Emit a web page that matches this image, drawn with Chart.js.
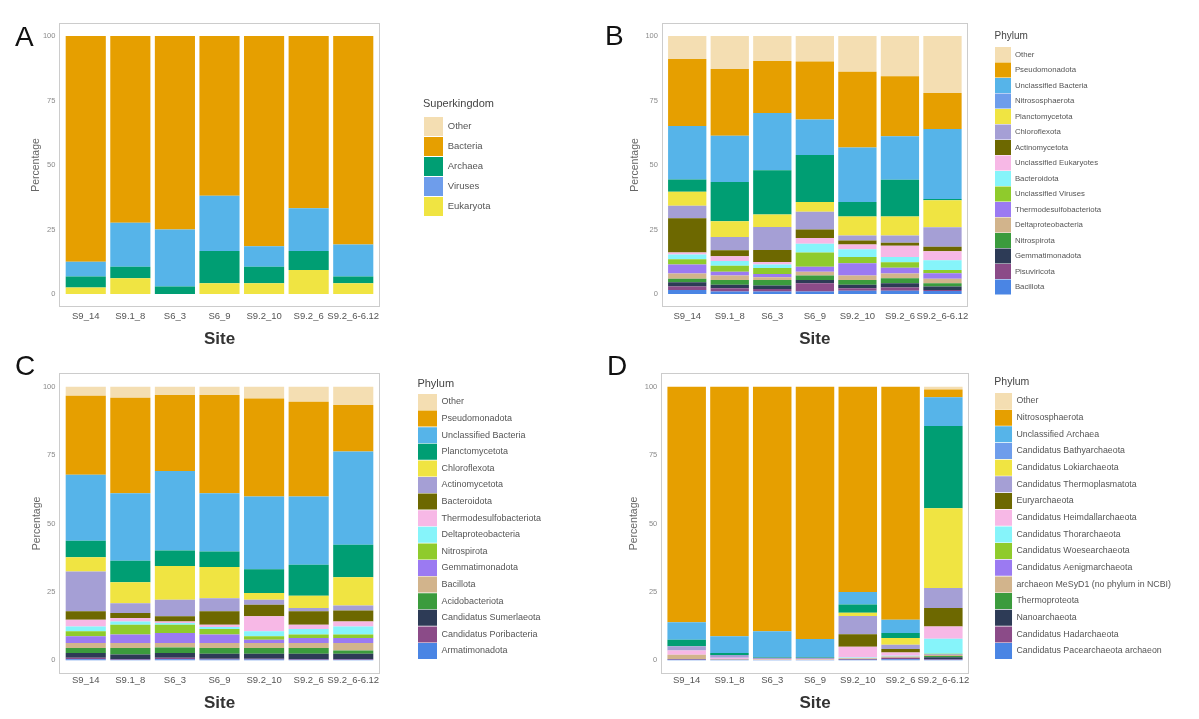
<!DOCTYPE html>
<html>
<head>
<meta charset="utf-8">
<title>Taxonomic composition by site</title>
<script src="https://cdn.jsdelivr.net/npm/chart.js@4.4.1/dist/chart.umd.min.js"></script>
<style>
  body { margin: 0; background: #fff; width: 1199px; height: 719px; position: relative; overflow: hidden; }
  .panel { position: absolute; }
</style>
</head>
<body>
<div class="panel" style="left:0;top:0;width:600px;height:360px"><canvas id="chart-a"></canvas></div>
<div class="panel" style="left:600px;top:0;width:599px;height:360px"><canvas id="chart-b"></canvas></div>
<div class="panel" style="left:0;top:345px;width:600px;height:374px"><canvas id="chart-c"></canvas></div>
<div class="panel" style="left:600px;top:345px;width:599px;height:374px"><canvas id="chart-d"></canvas></div>
<script>
/* Relative abundance (%) per site, stacked bars */
const sites = ['S9_14', 'S9.1_8', 'S6_3', 'S6_9', 'S9.2_10', 'S9.2_6', 'S9.2_6-6.12'];
const yTicks = [0, 25, 50, 75, 100];

// A - superkingdom, one row per site (legend order)
const kingdoms = ['Other', 'Bacteria', 'Archaea', 'Viruses', 'Eukaryota'];
const kingdomShares = [
  [0, 87.5, 5.7, 4.2, 2.6],
  [0, 72.4, 17.0, 4.5, 6.1],
  [0, 75.0, 22.1, 2.9, 0],
  [0, 61.9, 21.4, 12.5, 4.2],
  [0, 81.5, 7.9, 6.4, 4.2],
  [0, 66.8, 16.5, 7.4, 9.3],
  [0, 80.8, 12.4, 2.6, 4.2],
];

// B - all phyla
const allPhyla = ['Other', 'Pseudomonadota', 'Unclassified Bacteria', 'Nitrososphaerota', 'Planctomycetota',
  'Chloroflexota', 'Actinomycetota', 'Unclassified Eukaryotes', 'Bacteroidota', 'Unclassified Viruses',
  'Thermodesulfobacteriota', 'Deltaproteobacteria', 'Nitrospirota', 'Gemmatimonadota', 'Pisuviricota', 'Bacillota'];
const allShares = [
  [8.9, 26.0, 20.7, 4.8, 5.4, 4.8, 13.3, 0.8, 1.8, 2.0, 3.5, 2.1, 1.3, 1.7, 1.3, 1.6],
  [12.8, 25.9, 17.9, 15.2, 6.1, 5.1, 2.3, 1.9, 1.8, 2.3, 1.5, 1.7, 1.9, 1.3, 1.3, 1.0],
  [9.7, 20.2, 22.1, 17.2, 4.8, 8.9, 4.7, 0.9, 1.4, 2.3, 1.3, 1.0, 2.2, 1.3, 1.0, 1.0],
  [9.9, 22.5, 13.7, 18.2, 3.8, 6.9, 3.3, 2.2, 3.4, 5.5, 1.9, 1.5, 1.7, 1.3, 3.2, 1.0],
  [13.9, 29.3, 21.1, 5.6, 7.4, 1.9, 1.6, 1.8, 3.0, 2.5, 4.7, 1.7, 1.9, 1.3, 1.0, 1.3],
  [15.6, 23.3, 16.8, 14.2, 7.4, 2.8, 1.2, 4.3, 2.1, 2.1, 2.2, 1.9, 1.9, 1.6, 1.3, 1.3],
  [22.1, 14.0, 27.1, 0.5, 10.4, 7.6, 1.7, 3.5, 3.8, 1.2, 2.2, 1.7, 1.3, 1.3, 0.4, 1.2],
];

// C - bacterial phyla
const bacPhyla = ['Other', 'Pseudomonadota', 'Unclassified Bacteria', 'Planctomycetota', 'Chloroflexota',
  'Actinomycetota', 'Bacteroidota', 'Thermodesulfobacteriota', 'Deltaproteobacteria', 'Nitrospirota',
  'Gemmatimonadota', 'Bacillota', 'Acidobacteriota', 'Candidatus Sumerlaeota', 'Candidatus Poribacteria', 'Armatimonadota'];
const bacShares = [
  [3.3, 28.9, 24.1, 6.0, 5.2, 14.6, 3.1, 2.4, 1.8, 1.8, 2.5, 1.8, 1.8, 1.8, 0.5, 0.4],
  [4.0, 34.9, 24.7, 7.9, 7.6, 3.6, 1.8, 1.3, 1.2, 3.6, 3.1, 1.8, 2.4, 1.6, 0.3, 0.2],
  [3.0, 27.8, 29.1, 5.6, 12.4, 6.0, 1.9, 0.6, 0.6, 3.0, 3.7, 1.6, 2.0, 1.8, 0.5, 0.4],
  [3.0, 35.9, 21.3, 5.7, 11.4, 4.8, 4.9, 0.8, 0.8, 2.0, 3.1, 1.8, 2.1, 1.8, 0.3, 0.3],
  [4.3, 35.8, 26.6, 8.7, 2.5, 1.8, 4.2, 5.5, 1.8, 1.3, 1.2, 1.8, 2.1, 1.8, 0.3, 0.3],
  [5.5, 34.6, 25.0, 11.3, 4.5, 1.2, 4.9, 1.6, 2.0, 1.2, 1.9, 1.8, 2.1, 1.9, 0.3, 0.2],
  [6.7, 17.0, 34.1, 11.8, 10.4, 1.8, 4.0, 1.8, 3.0, 1.2, 1.9, 2.7, 1.2, 1.9, 0.3, 0.2],
];

// D - archaeal phyla
const arcPhyla = ['Other', 'Nitrososphaerota', 'Unclassified Archaea', 'Candidatus Bathyarchaeota',
  'Candidatus Lokiarchaeota', 'Candidatus Thermoplasmatota', 'Euryarchaeota', 'Candidatus Heimdallarchaeota',
  'Candidatus Thorarchaeota', 'Candidatus Woesearchaeota', 'Candidatus Aenigmarchaeota',
  'archaeon MeSyD1 (no phylum in NCBI)', 'Thermoproteota', 'Nanoarchaeota', 'Candidatus Hadarchaeota',
  'Candidatus Pacearchaeota archaeon'];
const arcShares = [
  [0, 86.1, 6.4, 2.4, 0, 1.5, 0, 1.6, 0, 0, 0, 1.5, 0, 0, 0.3, 0.2],
  [0, 91.2, 6.1, 0.8, 0, 1.0, 0, 0.4, 0, 0, 0, 0.3, 0, 0, 0, 0.2],
  [0, 89.4, 9.4, 0.3, 0, 0.4, 0, 0.2, 0, 0, 0, 0.2, 0, 0, 0, 0.1],
  [0, 92.2, 6.6, 0.3, 0, 0.4, 0, 0.2, 0, 0, 0, 0.2, 0, 0, 0, 0.1],
  [0, 75.0, 4.6, 3.0, 1.2, 6.7, 4.5, 4.0, 0.2, 0, 0, 0.3, 0, 0, 0.3, 0.2],
  [0, 85.2, 4.8, 1.8, 2.5, 1.6, 1.2, 1.2, 0.3, 0, 0, 0.5, 0, 0, 0.5, 0.4],
  [1.0, 2.9, 10.5, 30.0, 29.2, 7.3, 6.7, 4.5, 5.5, 0.3, 0.2, 0.3, 0.5, 0.6, 0.3, 0.2],
];

const FONT = '"Liberation Sans", Arial, sans-serif';
const barColours = ['#F4DEB2', '#E69F00', '#56B4E9', '#009E73', '#F0E442', '#A59FD5', '#6D6800', '#F7B8E6',
  '#86F4FA', '#8FCB2C', '#9B7AF2', '#D2B48C', '#3B9B3D', '#2D3B56', '#8B4B88', '#4A85E4'];
const legendBlue = '#6E9DEB';
const withBlue = barColours.map((c, i) => (i === 3 ? legendBlue : c));

// panel border, tag letter, and fixed legend placement
const panelFrame = {
  id: 'panelFrame',
  afterLayout(chart, args, opts) {
    const lg = chart.legend;
    if (!lg) return;
    lg.left = opts.legendX;
    lg.top = opts.legendY;
    lg.right = chart.width;
    lg.bottom = chart.height;
  },
  afterDraw(chart, args, opts) {
    const { ctx, chartArea: a } = chart;
    const pad = 0.1 * (a.right - a.left) / chart.data.labels.length;
    ctx.save();
    ctx.strokeStyle = '#cccccc';
    ctx.lineWidth = 1;
    ctx.strokeRect(Math.round(a.left - pad) + 0.5, Math.round(a.top) + 0.5,
      Math.round(a.right - a.left + 2 * pad) - 1, Math.round(a.bottom - a.top) - 1);
    ctx.fillStyle = '#111';
    ctx.font = '28px ' + FONT;
    ctx.fillText(opts.tag, opts.tagX, opts.tagY);
    ctx.restore();
  }
};

function drawPanel(id, names, rows, g) {
  const legendColours = g.legendColours || barColours;
  // first dataset sits at the bottom of the stack, so reverse the legend order
  const datasets = names.map((name, i) => ({
    label: name,
    data: rows.map(r => r[i]),
    backgroundColor: barColours[i],
    borderWidth: 0,
    barPercentage: 0.9,
    categoryPercentage: 1,
  })).reverse();

  return new Chart(document.getElementById(id), {
    type: 'bar',
    data: { labels: sites, datasets },
    options: {
      responsive: true, maintainAspectRatio: false, animation: false,
      layout: { padding: { left: 0, top: g.top, right: g.padRight, bottom: 0 } },
      scales: {
        x: {
          stacked: true, offset: true,
          grid: { display: false, drawTicks: false }, border: { display: false },
          ticks: { color: '#555', font: { family: FONT, size: 9.5 }, padding: g.xTickPad, maxRotation: 0, autoSkip: false },
          title: { display: true, text: 'Site', color: '#333', font: { family: FONT, size: 17, weight: 'bold' }, padding: { top: 0, bottom: g.siteGap } },
          afterFit: s => { s.height = g.xHeight; },
        },
        y: {
          stacked: true, min: -5, max: 105,
          grid: { display: false, drawTicks: false }, border: { display: false },
          afterBuildTicks: s => { s.ticks = yTicks.map(v => ({ value: v })); },
          ticks: { color: '#8a8a8a', font: { family: FONT, size: 7.5 }, padding: 8 },
          title: { display: true, text: 'Percentage', color: '#666', font: { family: FONT, size: 10.5 }, padding: { top: g.yTitlePad, bottom: 0 } },
          afterFit: s => { s.width = g.left; },
        },
      },
      plugins: {
        tooltip: { enabled: false },
        legend: {
          position: 'right', align: 'start', maxWidth: 10,
          title: { display: true, text: g.legendTitle, position: 'start', color: '#444',
            font: { family: FONT, size: g.titleSize }, padding: { top: 0, bottom: g.titleGap } },
          labels: {
            boxWidth: g.boxW, boxHeight: g.boxH, padding: g.boxPad,
            font: { family: FONT, size: g.labelSize },
            generateLabels: () => names.map((name, i) => ({
              text: name, fillStyle: legendColours[i], strokeStyle: legendColours[i],
              fontColor: '#555', lineWidth: 0, hidden: false, datasetIndex: names.length - 1 - i,
            })),
          },
        },
        panelFrame: { tag: g.tag, tagX: g.tagX, tagY: g.tagY, legendX: g.legendX, legendY: g.legendY },
      },
    },
    plugins: [panelFrame],
  });
}

drawPanel('chart-a', kingdoms, kingdomShares, {
  tag: 'A', tagX: 15, tagY: 46, left: 63.46, top: 23, padRight: 214.46, xHeight: 53, xTickPad: 3.8,
  siteGap: 10.8, yTitlePad: 30.2, legendTitle: 'Superkingdom', legendX: 423, legendY: 98,
  titleSize: 11, titleGap: 4.8, labelSize: 9.5, boxW: 19, boxH: 19, boxPad: 1,
  legendColours: [barColours[0], barColours[1], barColours[3], legendBlue, barColours[4]],
});

drawPanel('chart-b', allPhyla, allShares, {
  tag: 'B', tagX: 5, tagY: 45, left: 65.95, top: 23, padRight: 225.25, xHeight: 53, xTickPad: 3.8,
  siteGap: 10.8, yTitlePad: 28.7, legendTitle: 'Phylum', legendX: 394.5, legendY: 31,
  titleSize: 10, titleGap: 3.5, labelSize: 7.8, boxW: 16, boxH: 15, boxPad: 0.5,
  legendColours: withBlue,
});

drawPanel('chart-c', bacPhyla, bacShares, {
  tag: 'C', tagX: 15, tagY: 30, left: 63.46, top: 28, padRight: 214.46, xHeight: 45, xTickPad: 1,
  siteGap: 5.8, yTitlePad: 30.7, legendTitle: 'Phylum', legendX: 417.4, legendY: 33,
  titleSize: 11, titleGap: 2.2, labelSize: 9, boxW: 19, boxH: 16, boxPad: 0.6,
});

drawPanel('chart-d', arcPhyla, arcShares, {
  tag: 'D', tagX: 7, tagY: 30, left: 65.28, top: 28, padRight: 224.28, xHeight: 45, xTickPad: 1,
  siteGap: 5.8, yTitlePad: 27.7, legendTitle: 'Phylum', legendX: 394.35, legendY: 31.75,
  titleSize: 10.5, titleGap: 3, labelSize: 8.8, boxW: 17, boxH: 16, boxPad: 0.67,
  legendColours: withBlue,
});
</script>
</body>
</html>
